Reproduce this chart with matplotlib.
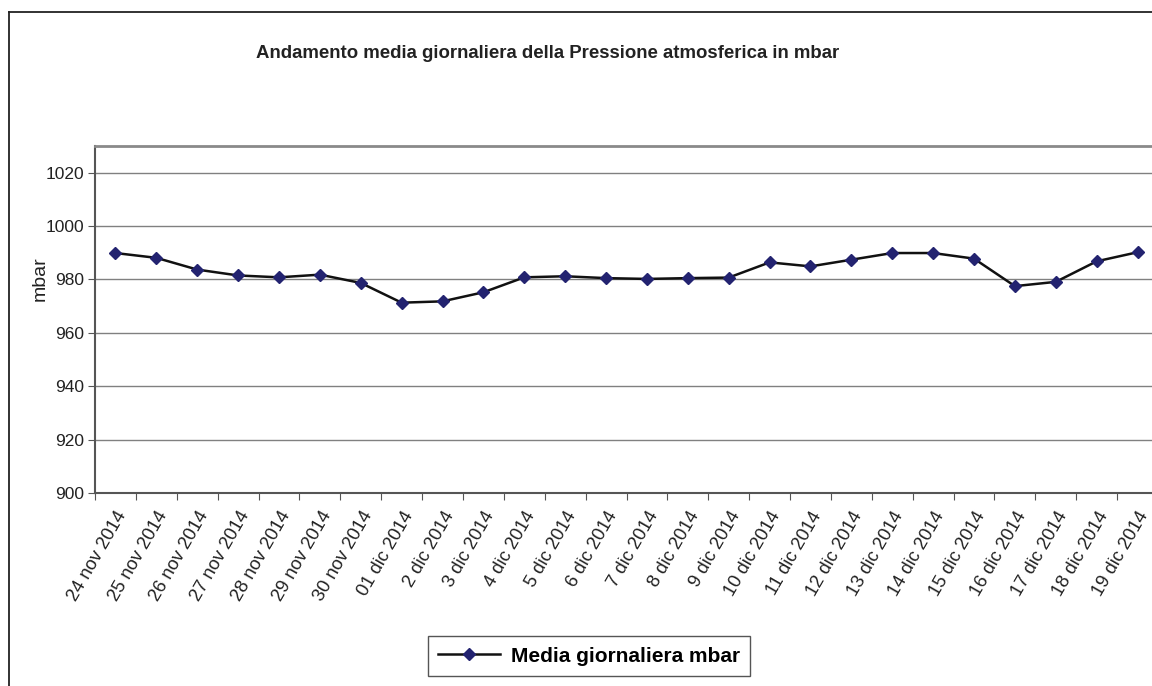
import matplotlib.pyplot as plt
from matplotlib.lines import Line2D

plt.rcParams['font.family'] = ['Liberation Sans', 'DejaVu Sans']

days = [
    '24 nov 2014', '25 nov 2014', '26 nov 2014', '27 nov 2014',
    '28 nov 2014', '29 nov 2014', '30 nov 2014', '01 dic 2014',
    '2 dic 2014', '3 dic 2014', '4 dic 2014', '5 dic 2014',
    '6 dic 2014', '7 dic 2014', '8 dic 2014', '9 dic 2014',
    '10 dic 2014', '11 dic 2014', '12 dic 2014', '13 dic 2014',
    '14 dic 2014', '15 dic 2014', '16 dic 2014', '17 dic 2014',
    '18 dic 2014', '19 dic 2014',
]
pressure = [
    989.9, 988.1, 983.7, 981.5, 980.8, 981.8, 978.7, 971.3,
    971.8, 975.2, 980.8, 981.2, 980.5, 980.2, 980.5, 980.7,
    986.4, 984.9, 987.4, 989.9, 989.9, 987.8, 977.5, 979.1,
    986.8, 990.2,
]
y_ticks = [900, 920, 940, 960, 980, 1000, 1020]

W, H = 1152, 686
fig = plt.figure(figsize=(W / 100, H / 100), dpi=100)

# outer chart frame (open on the right and bottom)
fig.add_artist(Line2D([8.5 / W, 8.5 / W], [-0.1, 1 - 11.5 / H],
                      transform=fig.transFigure, color='#222222', lw=1.3))
fig.add_artist(Line2D([8.5 / W, 1.1], [1 - 11.5 / H, 1 - 11.5 / H],
                      transform=fig.transFigure, color='#222222', lw=1.3))

left, right, top, bottom = 95, 1158, 146, 493
ax = fig.add_axes([left / W, 1 - bottom / H, (right - left) / W,
                   (bottom - top) / H])

x = list(range(len(days)))
ax.plot(x, pressure, color='#111111', lw=1.8, marker='D', ms=6.5,
        mfc='#232370', mec='#232370', label='Media giornaliera mbar',
        zorder=3)

ax.set_xlim(-0.5, len(days) - 0.5)
ax.set_ylim(900, 1030)
ax.set_yticks(y_ticks)
ax.yaxis.grid(True, color='#808080', lw=1)
ax.set_axisbelow(True)

ax.set_xticks([i - 0.5 for i in range(len(days) + 1)])
ax.set_xticklabels([])
ax.set_xticks(x, minor=True)
ax.set_xticklabels(days, minor=True, rotation=60, ha='right', va='top',
                   rotation_mode='anchor', fontsize=13.2, color='#222222')
ax.tick_params(axis='x', which='minor', length=0, pad=11)
ax.tick_params(axis='x', which='major', length=5, color='#555555')
ax.tick_params(axis='y', length=5, color='#555555', labelsize=12.5,
               labelcolor='#222222', pad=3)

for side in ('left', 'bottom'):
    ax.spines[side].set_color('#555555')
    ax.spines[side].set_linewidth(1.5)
ax.spines['top'].set_color('#8a8a8a')
ax.spines['top'].set_linewidth(2)
ax.spines['right'].set_visible(False)

ax.set_ylabel('mbar', fontsize=14, color='#222222')
ax.yaxis.set_label_coords(-0.044, 0.617)

fig.text(548 / W, 1 - 53 / H,
         'Andamento media giornaliera della Pressione atmosferica in mbar',
         ha='center', va='center', fontsize=13.4, fontweight='bold',
         color='#222222')

leg = fig.legend(loc='center', bbox_to_anchor=(589 / W, 1 - 656 / H),
                 fancybox=False, framealpha=1, edgecolor='#555555',
                 handlelength=3, borderpad=0.5, handletextpad=0.5,
                 prop={'weight': 'bold', 'size': 15})
leg.get_frame().set_linewidth(1)

fig.savefig('out.png', dpi=100)
